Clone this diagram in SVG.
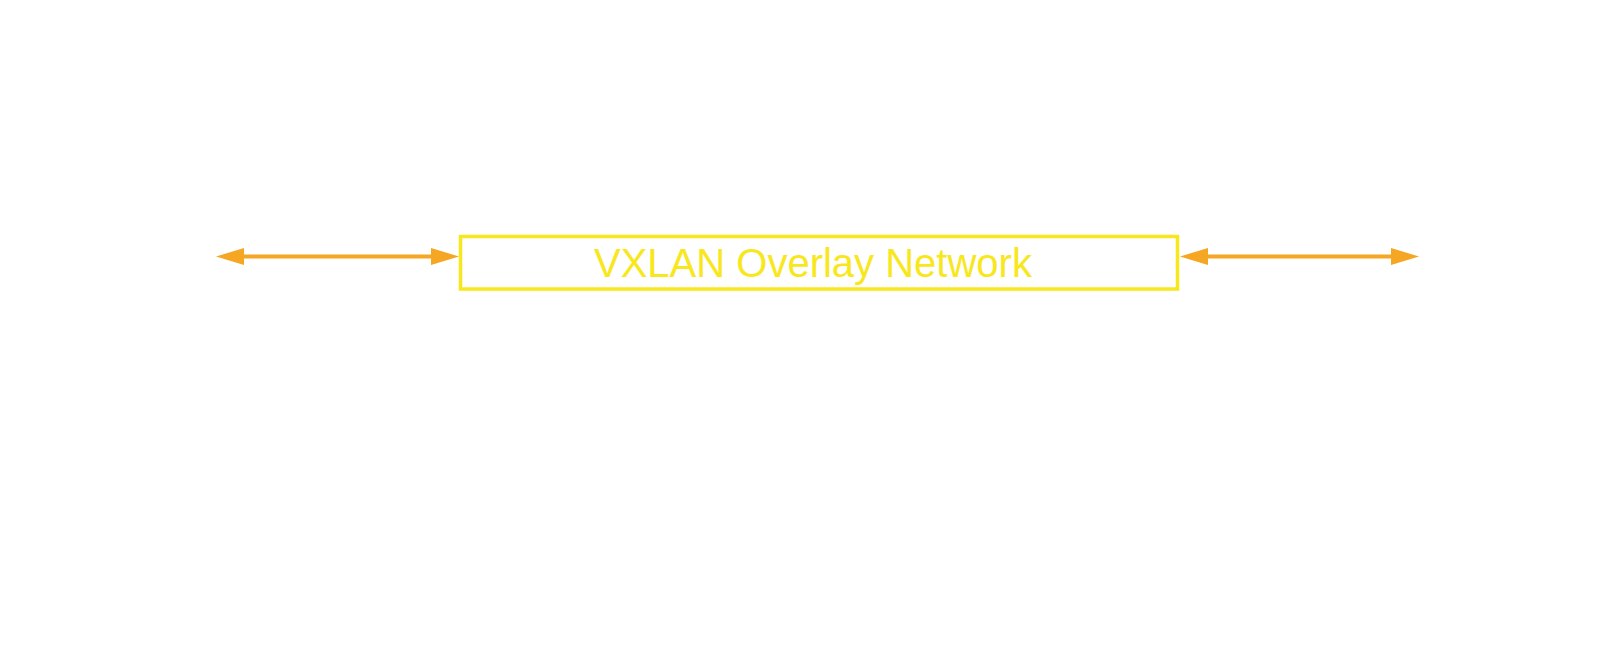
<svg xmlns="http://www.w3.org/2000/svg" width="1624" height="660" viewBox="0 0 1624 660">
<style>
.box{fill:none;stroke:#f8e71c;stroke-width:3.5}
.lbl{font-family:"Liberation Sans",Arial,sans-serif;font-size:40px;fill:#f8e71c}
.conn{stroke:#f5a623;stroke-width:4;fill:none}
</style>
<defs>
<marker id="ah" viewBox="0 0 28 17" refX="1" refY="8.5" markerWidth="28" markerHeight="17" markerUnits="userSpaceOnUse" orient="auto-start-reverse">
<path d="M0,0 L28,8.5 L0,17 Z" fill="#f5a623"/>
</marker>
</defs>
<rect width="1624" height="660" fill="#ffffff"/>
<g id="vxlan">
<rect class="box" x="460.5" y="236.5" width="717" height="52.5"/>
<text class="lbl" x="594" y="277">VXLAN Overlay Network</text>
</g>
<g id="connectors">
<line class="conn" x1="243" y1="256.5" x2="432" y2="256.5" marker-start="url(#ah)" marker-end="url(#ah)"/>
<line class="conn" x1="1207" y1="256.5" x2="1392" y2="256.5" marker-start="url(#ah)" marker-end="url(#ah)"/>
</g>
</svg>
